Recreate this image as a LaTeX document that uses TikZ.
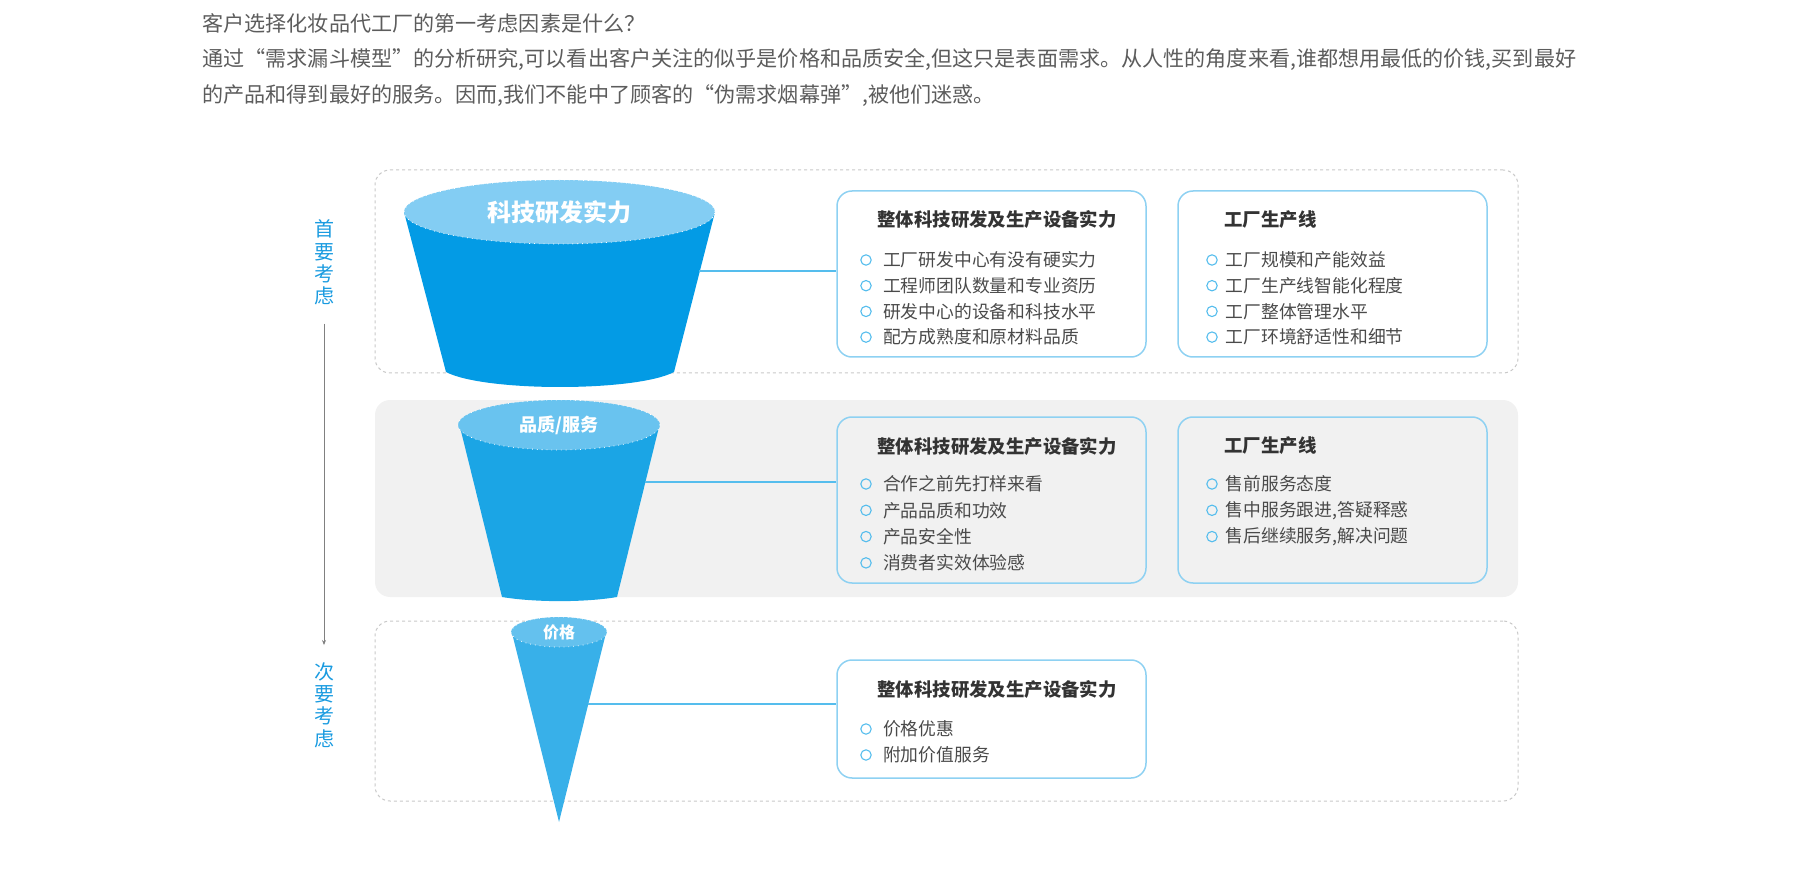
\documentclass[tikz,border=0pt]{standalone}
\usepackage{fontspec}
\setmainfont{Noto Sans CJK SC}
\usepackage{xcolor}
\usetikzlibrary{positioning, arrows.meta, shapes.geometric}
\definecolor{funnelA}{HTML}{039BE5}
\definecolor{funnelB}{HTML}{1BA5E5}
\definecolor{funnelC}{HTML}{38B0E9}
\definecolor{lidA}{HTML}{83CDF3}
\definecolor{lidB}{HTML}{69C3EF}
\definecolor{lidC}{HTML}{64C1EE}
\definecolor{panelgray}{HTML}{F1F1F1}
\definecolor{zoneline}{HTML}{C8C8C8}
\definecolor{cardline}{HTML}{8ED1F2}
\definecolor{linkblue}{HTML}{55BDED}
\definecolor{sideblue}{HTML}{1A9BE0}
\definecolor{headgray}{HTML}{5C5C5C}
\definecolor{titlegray}{HTML}{333333}
\definecolor{itemgray}{HTML}{4A4A4A}
\newcommand{\fsz}[1]{\fontsize{#1}{#1}\selectfont}

\begin{document}
\begin{tikzpicture}[x=0.5pt, y=-0.5pt,
  head/.style={anchor=west, inner sep=0pt, text=headgray, font=\fsz{10.55pt}},
  zone/.style={draw=zoneline, dash pattern=on 1.5pt off 1.5pt, line width=0.5pt, rounded corners=7.5pt, minimum width=571.5pt},
  panel/.style={fill=panelgray, rounded corners=7.5pt, minimum width=571.5pt},
  card/.style={draw=cardline, line width=0.75pt, rounded corners=7.5pt, minimum width=154.5pt},
  cardtitle/.style={anchor=west, inner sep=0pt, text=titlegray, font=\fsz{9.2pt}\bfseries},
  item/.style={inner sep=0pt, text=itemgray, font=\fsz{8.9pt}},
  dot/.style={circle, draw=linkblue, line width=0.55pt, minimum size=5.2pt, inner sep=0pt},
  lid/.style={ellipse, draw=white, dotted, line width=0.4pt, inner sep=0pt, text=white},
  link/.style={draw=linkblue, line width=0.8pt},
  side/.style={align=center, inner sep=0pt, text=sideblue, font=\fontsize{10pt}{11.15pt}\selectfont},
  timeline/.style={draw=gray, line width=0.5pt, -{Stealth[length=2.5pt,width=2pt]}}]
\useasboundingbox (0,0) rectangle (1800,882);

% question and introduction
\node[head] (hdr1) at (202,23) {客户选择化妆品代工厂的第一考虑因素是什么？};
\node[head] (hdr2) at (202,60) {通过“需求漏斗模型”的分析研究,可以看出客户关注的似乎是价格和品质安全,但这只是表面需求。从人性的角度来看,谁都想用最低的价钱,买到最好};
\node[head] (hdr3) at (202,96) {的产品和得到最好的服务。因而,我们不能中了顾客的“伪需求烟幕弹”,被他们迷惑。};

% three zones
\node[zone, minimum height=101.5pt] (zone1) at (946.5,271.5) {};
\node[panel, minimum height=98.5pt] (zone2) at (946.5,498.5) {};
\node[zone, minimum height=90pt] (zone3) at (946.5,711) {};

% funnels
\fill[funnelA] (404,212) -- (446,372) .. controls (484,392) and (636,392) .. (674,372) -- (715,212) -- cycle;
\node[lid, fill=lidA, minimum width=155.5pt, minimum height=32pt] (lid1) at (559.5,212) {\fsz{12pt}\bfseries 科技研发实力};
\fill[funnelB] (460,427) -- (502,597) .. controls (535,602.5) and (585,602.5) .. (617,597) -- (659,427) -- cycle;
\node[lid, fill=lidB, minimum width=101pt, minimum height=25pt] (lid2) at (559,425) {\fsz{9pt}\bfseries 品质/服务};
\fill[funnelC] (512,633) -- (559,822) -- (606,633) -- cycle;
\node[lid, fill=lidC, minimum width=48pt, minimum height=15pt] (lid3) at (559,632) {\fsz{8pt}\bfseries 价格};

% cards
\node[card, minimum height=83pt] (boxA1) at (991.5,274) {};
\node[card, minimum height=83pt] (boxB1) at (1332.5,274) {};
\node[card, minimum height=83pt] (boxA2) at (991.5,500) {};
\node[card, minimum height=83pt] (boxB2) at (1332.5,500) {};
\node[card, minimum height=59pt] (boxA3) at (991.5,719) {};

\node[cardtitle] (tA1) at (877,220) {整体科技研发及生产设备实力};
\node[cardtitle] (tB1) at (1224,220) {工厂生产线};
\node[cardtitle] (tA2) at (877,446) {整体科技研发及生产设备实力};
\node[cardtitle] (tB2) at (1224,446) {工厂生产线};
\node[cardtitle] (tA3) at (877,689) {整体科技研发及生产设备实力};

\foreach \txt [count=\i] in {工厂研发中心有没有硬实力, 工程师团队数量和专业资历, 研发中心的设备和科技水平, 配方成熟度和原材料品质}
  {\node[dot] (dA1\i) at (866,{260+25.7*(\i-1)}) {};
   \node[item, right=5.5pt of dA1\i] (iA1\i) {\txt};}
\foreach \txt [count=\i] in {工厂规模和产能效益, 工厂生产线智能化程度, 工厂整体管理水平, 工厂环境舒适性和细节}
  {\node[dot] (dB1\i) at (1212,{260+25.7*(\i-1)}) {};
   \node[item, right=3.8pt of dB1\i] (iB1\i) {\txt};}
\foreach \txt [count=\i] in {合作之前先打样来看, 产品品质和功效, 产品安全性, 消费者实效体验感}
  {\node[dot] (dA2\i) at (866,{484+26.3*(\i-1)}) {};
   \node[item, right=5.5pt of dA2\i] (iA2\i) {\txt};}
\foreach \txt [count=\i] in {售前服务态度, {售中服务跟进,答疑释惑}, {售后继续服务,解决问题}}
  {\node[dot] (dB2\i) at (1212,{484+26.3*(\i-1)}) {};
   \node[item, right=3.8pt of dB2\i] (iB2\i) {\txt};}
\foreach \txt [count=\i] in {价格优惠, 附加价值服务}
  {\node[dot] (dA3\i) at (866,{729+26*(\i-1)}) {};
   \node[item, right=5.5pt of dA3\i] (iA3\i) {\txt};}

% links from funnels to cards
\coordinate (f1side) at (699,271);
\coordinate (f2side) at (645,482);
\coordinate (f3side) at (588,704);
\draw[link] (f1side) -- (f1side -| boxA1.west);
\draw[link] (f2side) -- (f2side -| boxA2.west);
\draw[link] (f3side) -- (f3side -| boxA3.west);

% priority axis
\node[side] (first) at (324,262.5) {首\\要\\考\\虑};
\node[side] (second) at (324,705) {次\\要\\考\\虑};
\draw[timeline] ([yshift=-9pt]first.south) -- ([yshift=8.5pt]second.north);
\end{tikzpicture}
\end{document}
